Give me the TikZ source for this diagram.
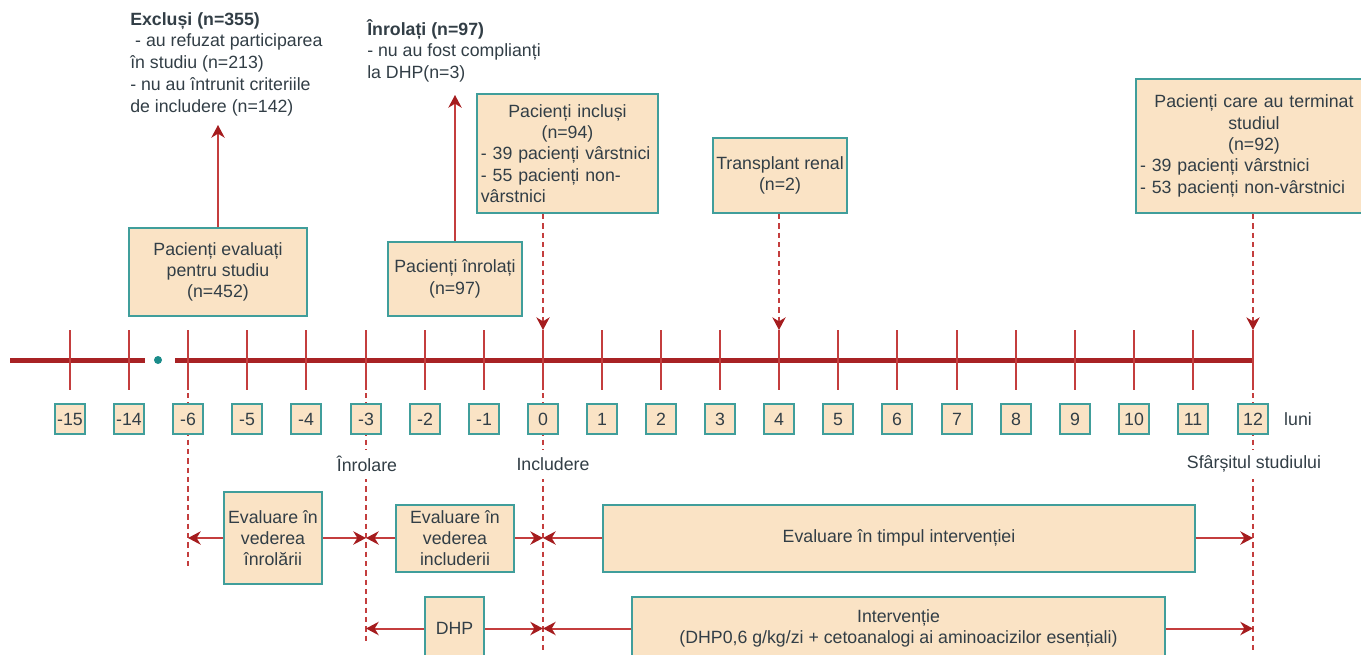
\documentclass[tikz,border=0pt]{standalone}
\usepackage{fontspec}
\setmainfont{Liberation Sans}
\usetikzlibrary{arrows.meta}
\definecolor{boxfill}{RGB}{250,227,197}
\definecolor{boxline}{RGB}{64,158,155}
\definecolor{axisred}{RGB}{168,34,36}
\definecolor{linered}{RGB}{196,62,62}
\definecolor{headred}{RGB}{165,28,30}
\definecolor{txt}{RGB}{50,62,70}
\definecolor{dotteal}{RGB}{26,140,138}

\begin{document}
\begin{tikzpicture}[x=0.75pt, y=-0.75pt,
    font=\fontsize{13.3}{16}\selectfont, text=txt,
    boxnode/.style={draw=boxline, line width=1.5pt, fill=boxfill, align=center, inner sep=2pt},
    monthbox/.style={boxnode, minimum width=22.5pt, minimum height=22.5pt, inner sep=0pt},
    phaselbl/.style={fill=white, minimum width=111pt, minimum height=21.75pt},
    notetext/.style={anchor=north west, align=left, inner sep=0pt, font=\fontsize{13.3}{16.3}\selectfont},
    timeline/.style={line width=3.75pt, color=axisred},
    tickmark/.style={line width=1.2pt, color=linered},
    guideline/.style={line width=1.1pt, color=linered, dash pattern=on 4pt off 3pt},
    headtip/.style={-{Stealth[length=9.5pt, width=10pt, inset=3pt, color=headred]}},
    connarrow/.style={line width=1.5pt, color=linered, headtip}]
			%%%%% START %%%%%
			\useasboundingbox (0,0) rectangle (1361,654);
			
			\coordinate (gm6) at (188,568);
			\coordinate (gm3) at (366,642);
			\coordinate (g0) at (543,654);
			\coordinate (g12) at (1253,654);
			\coordinate (k0) at (543,330);
			\coordinate (k4) at (779,330);
			\coordinate (k12) at (1253,330);
			\coordinate (exclTip) at (218,125);
			\coordinate (inrolTip) at (455,95);
			
			\draw[guideline] (188,393) -- (gm6);
			\draw[guideline] (366,393) -- (gm3);
			\draw[guideline] (543,393) -- (g0);
			\draw[guideline] (1253,393) -- (g12);
			
			\draw[timeline] (10,360) -- (145,360);
			\draw[timeline] (175,360) -- (1253,360);
			\fill[dotteal] (158,360) circle (3pt);
			
			\draw[tickmark] (70,330) -- (70,390) (129,330) -- (129,390) (188,330) -- (188,390)
				(247,330) -- (247,390) (306,330) -- (306,390) (366,330) -- (366,390)
				(425,330) -- (425,390) (484,330) -- (484,390) (543,330) -- (543,390)
				(602,330) -- (602,390) (661,330) -- (661,390) (720,330) -- (720,390)
				(779,330) -- (779,390) (838,330) -- (838,390) (897,330) -- (897,390)
				(957,330) -- (957,390) (1016,330) -- (1016,390) (1075,330) -- (1075,390)
				(1134,330) -- (1134,390) (1193,330) -- (1193,390) (1253,330) -- (1253,390);
			
			\node[monthbox] (lm15) at (70,419) {-15};
			\node[monthbox] (lm14) at (129,419) {-14};
			\node[monthbox] (lm6) at (188,419) {-6};
			\node[monthbox] (lm5) at (247,419) {-5};
			\node[monthbox] (lm4) at (306,419) {-4};
			\node[monthbox] (lm3) at (366,419) {-3};
			\node[monthbox] (lm2) at (425,419) {-2};
			\node[monthbox] (lm1) at (484,419) {-1};
			\node[monthbox] (l0) at (543,419) {0};
			\node[monthbox] (l1) at (602,419) {1};
			\node[monthbox] (l2) at (661,419) {2};
			\node[monthbox] (l3) at (720,419) {3};
			\node[monthbox] (l4) at (779,419) {4};
			\node[monthbox] (l5) at (838,419) {5};
			\node[monthbox] (l6) at (897,419) {6};
			\node[monthbox] (l7) at (957,419) {7};
			\node[monthbox] (l8) at (1016,419) {8};
			\node[monthbox] (l9) at (1075,419) {9};
			\node[monthbox] (l10) at (1134,419) {10};
			\node[monthbox] (l11) at (1193,419) {11};
			\node[monthbox] (l12) at (1253,419) {12};
			\node (luni) at (1298,419) {luni};
			
			\node[phaselbl] (inrolare) at (367,464) {Înrolare};
			\node[phaselbl] (includere) at (553,464) {Includere};
			\node[phaselbl] (sfarsit) at (1254,464) {Sfârșitul studiului};
			
			%% top boxes
			\node[boxnode, minimum width=133.5pt, minimum height=66pt] (evaluati) at (218,272) {Pacienți evaluați\\pentru studiu\\(n=452)};
			\node[notetext] (exclusi) at (130,12) {\textbf{Excluși (n=355)}\\\ - au refuzat participarea\\în studiu (n=213)\\- nu au întrunit criteriile\\de includere (n=142)};
			\draw[connarrow] (evaluati.north) -- (exclTip);
			
			\node[boxnode, minimum width=100.5pt, minimum height=55.5pt] (inrolati) at (455,279) {Pacienți înrolați\\(n=97)};
			\node[notetext] (inrolatiNote) at (367,19) {\textbf{Înrolați (n=97)}\\- nu au fost complianți\\la DHP(n=3)};
			\draw[connarrow] (inrolati.north) -- (inrolTip);
			
			\node[boxnode, inner sep=3pt, text width=130pt, align=left, minimum height=89.25pt] (inclusi) at (567.5,153.5) {\centering Pacienți incluși\\(n=94)\par\raggedright - 39 pacienți vârstnici\\- 55 pacienți non-\\vârstnici};
			\node[boxnode, minimum width=100.5pt, minimum height=56.25pt] (transplant) at (780,175.5) {Transplant renal\\(n=2)};
			\node[boxnode, inner sep=3pt, text width=171pt, align=left, minimum height=100.5pt] (terminat) at (1254,146) {\centering Pacienți care au terminat\\studiul\\(n=92)\par\raggedright - 39 pacienți vârstnici\\- 53 pacienți non-vârstnici};
			
			\draw[guideline, headtip] (inclusi.south -| k0) -- (k0);
			\draw[guideline, headtip] (transplant.south -| k4) -- (k4);
			\draw[guideline, headtip] (terminat.south -| k12) -- (k12);
			
			%% bottom boxes
			\node[boxnode, minimum width=73.5pt, minimum height=69pt] (evalInrolare) at (273,538) {Evaluare în\\vederea\\înrolării};
			\node[boxnode, minimum width=88.5pt, minimum height=50.25pt] (evalIncludere) at (455,538) {Evaluare în\\vederea\\includerii};
			\node[boxnode, minimum width=444pt, minimum height=50.25pt] (evalInterv) at (899,538) {Evaluare în timpul intervenției};
			\node[boxnode, minimum width=44.25pt, minimum height=47.25pt] (dhp) at (454.5,628.5) {DHP};
			\node[boxnode, minimum width=399.75pt, minimum height=47.25pt] (interv) at (898.5,628.5) {Intervenție\\(DHP0,6 g/kg/zi + cetoanalogi ai aminoacizilor esențiali)};
			
			\draw[connarrow] (evalInrolare.west) -- (evalInrolare.west -| gm6);
			\draw[connarrow] (evalInrolare.east) -- (evalInrolare.east -| gm3);
			\draw[connarrow] (evalIncludere.west) -- (evalIncludere.west -| gm3);
			\draw[connarrow] (evalIncludere.east) -- (evalIncludere.east -| g0);
			\draw[connarrow] (evalInterv.west) -- (evalInterv.west -| g0);
			\draw[connarrow] (evalInterv.east) -- (evalInterv.east -| g12);
			\draw[connarrow] (dhp.west) -- (dhp.west -| gm3);
			\draw[connarrow] (dhp.east) -- (dhp.east -| g0);
			\draw[connarrow] (interv.west) -- (interv.west -| g0);
			\draw[connarrow] (interv.east) -- (interv.east -| g12);
			%%%%% END %%%%%
\end{tikzpicture}
\end{document}
